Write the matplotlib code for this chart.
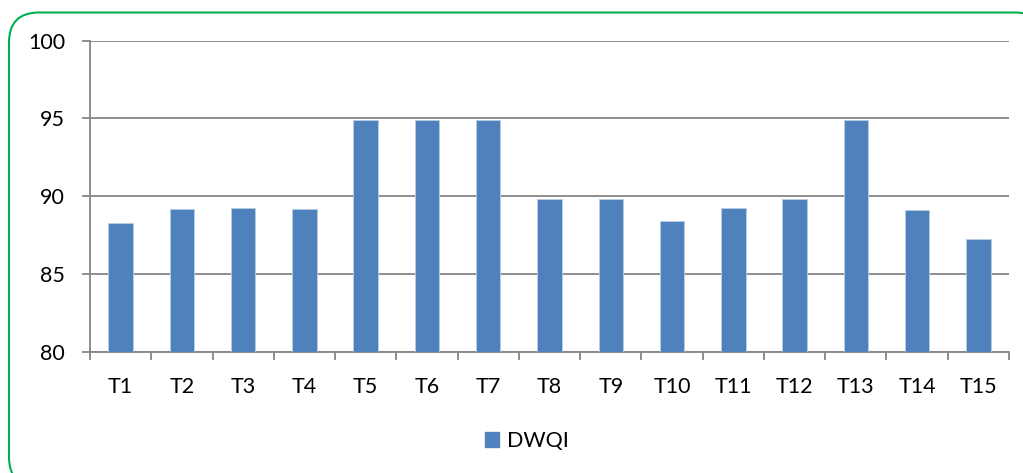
import matplotlib
matplotlib.use("Agg")
import matplotlib.pyplot as plt
from matplotlib.patches import FancyBboxPatch, Rectangle

categories = ["T1", "T2", "T3", "T4", "T5", "T6", "T7", "T8",
              "T9", "T10", "T11", "T12", "T13", "T14", "T15"]
dwqi = [88.26, 89.18, 89.22, 89.2, 94.9, 94.9, 94.9, 89.84,
        89.84, 88.42, 89.22, 89.84, 94.9, 89.11, 87.27]
y_ticks = [80, 85, 90, 95, 100]

plt.rcParams['font.family'] = ['Lato', 'DejaVu Sans']

W, H = 1023, 473
fig = plt.figure(figsize=(W / 100, H / 100), dpi=100)

# background layer in pixel units holding the rounded green frame
bg = fig.add_axes([0, 0, 1, 1], zorder=-1)
bg.set_xlim(0, W)
bg.set_ylim(H, 0)
bg.axis("off")
bg.add_patch(FancyBboxPatch((9, 12.5), 1045 - 9, 487 - 12.5,
                            boxstyle="round,pad=0,rounding_size=30",
                            facecolor="white", edgecolor="#00B050",
                            linewidth=1.5))

ax_left, ax_right = 90, 1009
ax_top, ax_bottom = 40.7, 351.7
ax = fig.add_axes([ax_left / W, 1 - ax_bottom / H,
                   (ax_right - ax_left) / W, (ax_bottom - ax_top) / H])
ax.set_facecolor("none")

x = list(range(len(categories)))
ax.bar(x, dwqi, width=0.4, color="#4F81BD", edgecolor="#B9CDE5",
       linewidth=0.6, zorder=3, label="DWQI")

fs = 15.5
ax.set_xlim(-0.5, len(categories) - 0.5)
ax.set_ylim(80, 100)
ax.set_yticks(y_ticks)
ax.set_yticklabels([str(v) for v in y_ticks], fontsize=fs)
ax.set_xticks([i - 0.5 for i in range(len(categories) + 1)], minor=False)
ax.set_xticklabels([])
ax.set_xticks(x, minor=True)
ax.set_xticklabels(categories, minor=True, fontsize=fs)

ax.tick_params(axis='x', which='major', length=6, color="#868686", width=1.3)
ax.tick_params(axis='x', which='minor', length=0, pad=18)
ax.tick_params(axis='y', length=6, color="#868686", width=1.3, pad=12)

ax.grid(axis='y', color="#868686", linewidth=1.3, zorder=0)
for side in ("top", "right"):
    ax.spines[side].set_visible(False)
for side in ("left", "bottom"):
    ax.spines[side].set_color("#868686")
    ax.spines[side].set_linewidth(1.3)

fig.legend(handles=[Rectangle((0, 0), 1, 1, color="#4F81BD")],
           labels=["DWQI"], loc="center", bbox_to_anchor=(527 / W, 1 - 441 / H),
           frameon=False, fontsize=fs, handlelength=0.65, handleheight=0.65,
           handletextpad=0.4)

fig.savefig("out.png", dpi=100)
